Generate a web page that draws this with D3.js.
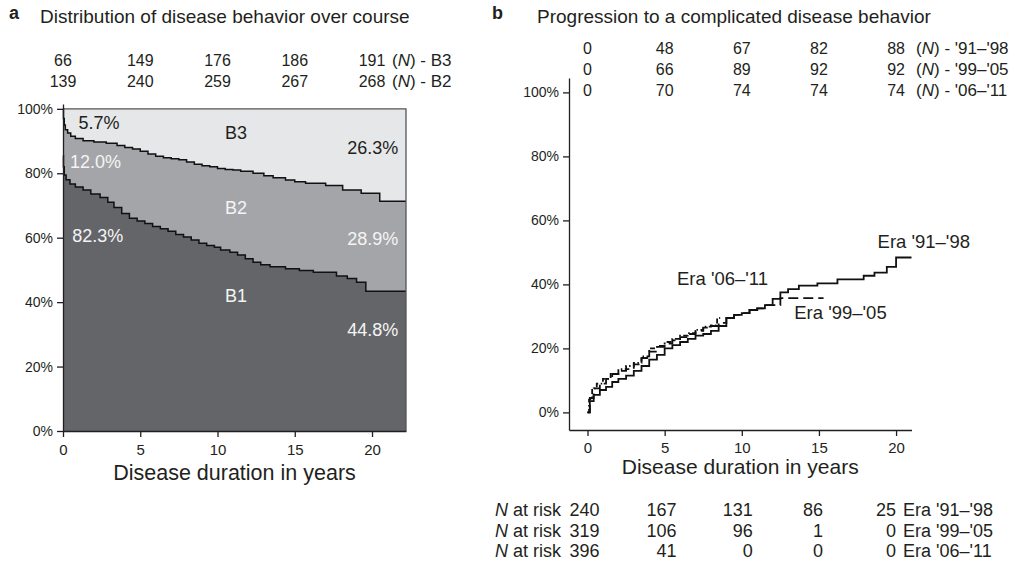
<!DOCTYPE html>
<html>
<head>
<meta charset="utf-8">
<script src="https://cdn.jsdelivr.net/npm/d3@7"></script>
<style>
  body { margin: 0; background: #fff; }
  text { font-family: "Liberation Sans", Arial, sans-serif; fill: #231f20; }
  .axis path, .axis line { stroke: #231f20; stroke-width: 1.3; }
  .axis text { font-size: 14px; }
</style>
</head>
<body>
<svg id="fig" width="1019" height="567"></svg>
<script>
// ---- data ----
var yearTicks = [0, 5, 10, 15, 20];
var pctTicks = [0, 20, 40, 60, 80, 100];

// panel a: cumulative N per behaviour at the yearly columns
var nB3 = [66, 149, 176, 186, 191];
var nB2 = [139, 240, 259, 267, 268];

// panel a: step boundaries (years, %)
var b1Years = [0, 0.03, 0.08, 0.2, 0.45, 0.8, 1.3, 1.8, 2.4, 2.9, 3.3, 3.8, 4.3, 4.8, 5.3, 5.8, 6.3, 6.8, 7.3, 7.8, 8.3, 8.8, 9.3, 9.8, 10.2, 10.8, 11.3, 11.8, 12.3, 12.8, 13.4, 14.4, 15.3, 16.2, 17.7, 18.4, 19.0, 19.6, 22.2];
var b1Top   = [85.5, 82, 79.5, 78, 76.7, 75.7, 74.8, 73.6, 72.5, 71, 69.4, 67.5, 66, 65.2, 64.4, 63.5, 62.8, 62, 61, 60.2, 59.3, 58.3, 57.6, 57, 56.2, 55.5, 54.6, 53.5, 52.4, 51.6, 51, 50.4, 49.8, 49.3, 48.1, 47.3, 46.2, 43.4, 43.4];
var b2Years = [0, 0.03, 0.08, 0.15, 0.3, 0.5, 0.8, 1.3, 2.0, 2.8, 3.5, 4.0, 4.5, 5.0, 5.5, 6.0, 6.5, 7.0, 7.5, 8.0, 8.5, 9.0, 9.5, 10.0, 10.5, 11.0, 11.5, 12.3, 13.0, 13.6, 14.4, 15.0, 15.7, 17.0, 18.1, 19.3, 20.5, 22.2];
var b2Top   = [100, 97, 95, 93.5, 92.5, 91.5, 90.8, 90.1, 89.7, 89.3, 88.6, 88, 87.5, 86.8, 86, 85.3, 84.8, 84.5, 84.2, 83.5, 82.8, 82.3, 82, 81.5, 81.2, 81, 80.6, 80, 79.2, 78.6, 77.9, 77.4, 76.9, 76.2, 74.8, 73.8, 71.3, 71.3];

// panel b: cumulative progression per era (years, %)
var eraNames = ["Era '91\u2013'98", "Era '99\u2013'05", "Era '06\u2013'11"];
var eraShort = ["'91\u2013'98", "'99\u2013'05", "'06\u2013'11"];
var t91 = [0, 0.15, 0.4, 0.8, 1.2, 1.6, 2.0, 2.5, 3.0, 3.5, 4.0, 4.5, 5.0, 5.5, 6.0, 6.5, 7.0, 7.5, 8.0, 8.5, 9.0, 9.5, 10.0, 10.5, 11.0, 11.5, 12.0, 12.5, 13.0, 13.7, 14.9, 16.2, 17.9, 18.6, 19.4, 20.0, 21.0];
var p91 = [0, 3.5, 5.5, 7, 8, 9.5, 10.5, 11.5, 13, 14.5, 16.5, 18, 20, 21, 22, 23, 24, 24.5, 25.5, 27, 29.5, 30.5, 31, 32, 32.5, 33.5, 35.5, 37.5, 38.5, 39.6, 40.3, 41.6, 42.7, 43.7, 45.5, 48.4, 48.4];
var t99 = [0, 0.15, 0.4, 0.8, 1.2, 1.6, 2.0, 2.5, 3.0, 3.5, 4.0, 4.5, 5.0, 5.5, 6.0, 6.5, 7.0, 7.5, 8.0, 8.5, 9.0, 9.5, 10.0, 10.5, 11.0, 11.5, 12.5, 15.3];
var p99 = [0, 4.5, 7.5, 9, 10.5, 12, 13, 13.5, 15, 17, 19, 20.5, 21.5, 22.5, 23.5, 24.5, 25.5, 26.5, 27, 28, 29.5, 30.5, 31, 32, 32.5, 33.5, 35.7, 35.7];
var t06 = [0, 0.1, 0.3, 0.6, 1.0, 1.5, 2.0, 2.5, 3.0, 3.5, 4.0, 4.5, 5.0, 5.5, 6.0, 6.5, 7.0, 7.5, 8.0, 8.4, 8.6];
var p06 = [0, 4, 7.5, 9, 10.5, 12, 13.5, 14.5, 15.5, 17.5, 20, 20.8, 22, 23, 24, 24.8, 25.8, 26.8, 27.2, 29.5, 29.5];

// panel b: cumulative events (N) per era and number at risk
var events91 = [0, 48, 67, 82, 88];
var events99 = [0, 66, 89, 92, 92];
var events06 = [0, 70, 74, 74, 74];
var risk91 = [240, 167, 131, 86, 25];
var risk99 = [319, 106, 96, 1, 0];
var risk06 = [396, 41, 0, 0, 0];

var svg = d3.select("#fig");

function zip(a, b) { return a.map(function(d, i) { return [d, b[i]]; }); }
function pct(d) { return d + "%"; }

// ================= panel a =================
var xa = d3.scaleLinear().domain([0, 22.2]).range([63, 406]);
var ya = d3.scaleLinear().domain([0, 101.5]).range([431, 104]);
var ga = svg.append("g");

ga.append("rect")
    .attr("x", xa(0)).attr("y", ya(100))
    .attr("width", xa(22.2) - xa(0)).attr("height", ya(0) - ya(100))
    .attr("fill", "#e6e7e9");

var areaA = d3.area().curve(d3.curveStepAfter)
    .x(function(d) { return xa(d[0]); })
    .y0(ya(0))
    .y1(function(d) { return ya(d[1]); });
var lineA = d3.line().curve(d3.curveStepAfter)
    .x(function(d) { return xa(d[0]); })
    .y(function(d) { return ya(d[1]); });

ga.append("path").datum(zip(b2Years, b2Top)).attr("d", areaA).attr("fill", "#a4a5a9");
ga.append("path").datum(zip(b1Years, b1Top)).attr("d", areaA).attr("fill", "#646569");
ga.append("path").datum(zip(b2Years, b2Top)).attr("d", lineA).attr("fill", "none").attr("stroke", "#111").attr("stroke-width", 1.5);
ga.append("path").datum(zip(b1Years, b1Top)).attr("d", lineA).attr("fill", "none").attr("stroke", "#111").attr("stroke-width", 1.5);

// frame top/right
ga.append("path")
    .attr("d", "M" + xa(0) + "," + ya(100) + "H" + xa(22.2) + "V" + ya(0))
    .attr("fill", "none").attr("stroke", "#555").attr("stroke-width", 1.3);

ga.append("g").attr("class", "axis")
    .attr("transform", "translate(" + xa(0) + ",0)")
    .call(d3.axisLeft(ya).tickValues(pctTicks).tickFormat(pct).tickSize(6).tickSizeOuter(0))
    .selectAll("text").attr("dx", "-1");
ga.append("g").attr("class", "axis")
    .attr("transform", "translate(0," + ya(0) + ")")
    .call(d3.axisBottom(xa).tickValues(yearTicks).tickSize(6).tickSizeOuter(0))
    .selectAll("text").style("font-size", "15px").attr("dy", "1.0em");

// in-area labels
var labA = [
  {t: "5.7%",  x: 1.0,  y: 93.8, a: "start", c: "#231f20"},
  {t: "B3",    x: 11.2, y: 90.6, a: "middle", c: "#231f20"},
  {t: "26.3%", x: 21.7, y: 85.9, a: "end", c: "#231f20"},
  {t: "12.0%", x: 0.45, y: 81.5, a: "start", c: "#f4f4f4"},
  {t: "B2",    x: 11.2, y: 67.3, a: "middle", c: "#f4f4f4"},
  {t: "28.9%", x: 21.7, y: 57.7, a: "end", c: "#f4f4f4"},
  {t: "82.3%", x: 0.6,  y: 58.8, a: "start", c: "#f4f4f4"},
  {t: "B1",    x: 11.2, y: 39.9, a: "middle", c: "#f4f4f4"},
  {t: "44.8%", x: 21.7, y: 29.5, a: "end", c: "#f4f4f4"}
];
ga.selectAll("text.lab").data(labA).enter().append("text")
    .attr("class", "lab")
    .attr("x", function(d) { return xa(d.x); })
    .attr("y", function(d) { return ya(d.y); })
    .attr("text-anchor", function(d) { return d.a; })
    .style("fill", function(d) { return d.c; })
    .style("font-size", "18px")
    .text(function(d) { return d.t; });

// N rows above the panels
function nRow(g, xs, cols, vals, yBase, suffix) {
  g.selectAll(null).data(vals).enter().append("text")
      .attr("x", function(d, i) { return xs(cols[i]); })
      .attr("y", yBase)
      .attr("text-anchor", "middle")
      .style("font-size", "16px")
      .text(function(d) { return d; });
  var s = g.append("text").attr("x", xs(cols[cols.length - 1]) + 20).attr("y", yBase).style("font-size", "17px");
  s.append("tspan").text("(");
  s.append("tspan").style("font-style", "italic").text("N");
  s.append("tspan").text(") - " + suffix);
}
nRow(ga, xa, yearTicks, nB3, 66, "B3");
nRow(ga, xa, yearTicks, nB2, 87, "B2");

svg.append("text").attr("x", 9).attr("y", 19).style("font-size", "18px").style("font-weight", "bold").text("a");
svg.append("text").attr("x", 40).attr("y", 23).style("font-size", "19px").text("Distribution of disease behavior over course");
svg.append("text").attr("x", (xa(0) + xa(22.2)) / 2).attr("y", 480).attr("text-anchor", "middle")
    .style("font-size", "21.5px").text("Disease duration in years");

// ================= panel b =================
var xb = d3.scaleLinear().domain([-1.2, 21.0]).range([569, 911.5]);
var yb = d3.scaleLinear().domain([-5.5, 104.5]).range([430, 78]);
var gb = svg.append("g");

gb.append("g").attr("class", "axis")
    .attr("transform", "translate(" + xb(-1.2) + ",0)")
    .call(d3.axisLeft(yb).tickValues(pctTicks).tickFormat(pct).tickSize(6).tickSizeOuter(0))
    .selectAll("text").attr("dx", "-1");
gb.append("g").attr("class", "axis")
    .attr("transform", "translate(0," + yb(-5.5) + ")")
    .call(d3.axisBottom(xb).tickValues(yearTicks).tickSize(6).tickSizeOuter(0))
    .selectAll("text").style("font-size", "15px").attr("dy", "0.95em");

var lineB = d3.line().curve(d3.curveStepAfter)
    .x(function(d) { return xb(d[0]); })
    .y(function(d) { return yb(d[1]); });
var eras = [
  {pts: zip(t06, p06), dash: "5,2.5,1.5,2.5"},
  {pts: zip(t99, p99), dash: "10,5"},
  {pts: zip(t91, p91), dash: null}
];
gb.selectAll("path.km").data(eras).enter().append("path")
    .attr("class", "km")
    .attr("d", function(d) { return lineB(d.pts); })
    .attr("fill", "none")
    .attr("stroke", "#111")
    .attr("stroke-width", 1.8)
    .attr("stroke-dasharray", function(d) { return d.dash; });

var labB = [
  {t: eraNames[0], x: 18.8, y: 51.3},
  {t: eraNames[1], x: 13.4, y: 29.2},
  {t: eraNames[2], x: 5.8,  y: 39.8}
];
gb.selectAll("text.lab").data(labB).enter().append("text")
    .attr("class", "lab")
    .attr("x", function(d) { return xb(d.x); })
    .attr("y", function(d) { return yb(d.y); })
    .style("font-size", "18.5px")
    .text(function(d) { return d.t; });

nRow(gb, xb, yearTicks, events91, 54, eraShort[0]);
nRow(gb, xb, yearTicks, events99, 75, eraShort[1]);
nRow(gb, xb, yearTicks, events06, 96, eraShort[2]);

svg.append("text").attr("x", 492).attr("y", 19).style("font-size", "18px").style("font-weight", "bold").text("b");
svg.append("text").attr("x", 537).attr("y", 23).style("font-size", "19px").text("Progression to a complicated disease behavior");
svg.append("text").attr("x", (xb(-1.2) + xb(21)) / 2).attr("y", 474).attr("text-anchor", "middle")
    .style("font-size", "21px").text("Disease duration in years");

// number at risk table
var riskRows = [risk91, risk99, risk06];
var riskDx = [12, 12, 11, 4, 0];
riskRows.forEach(function(row, r) {
  var yBase = 516 + r * 20.5;
  var lab = gb.append("text").attr("x", 495).attr("y", yBase).style("font-size", "18px");
  lab.append("tspan").style("font-style", "italic").text("N");
  lab.append("tspan").text(" at risk");
  gb.selectAll(null).data(row).enter().append("text")
      .attr("x", function(d, i) { return xb(yearTicks[i]) + riskDx[i]; })
      .attr("y", yBase)
      .attr("text-anchor", "end")
      .style("font-size", "18px")
      .text(function(d) { return d; });
  gb.append("text").attr("x", xb(20) + 7).attr("y", yBase).style("font-size", "18px").text(eraNames[r]);
});
</script>
</body>
</html>
